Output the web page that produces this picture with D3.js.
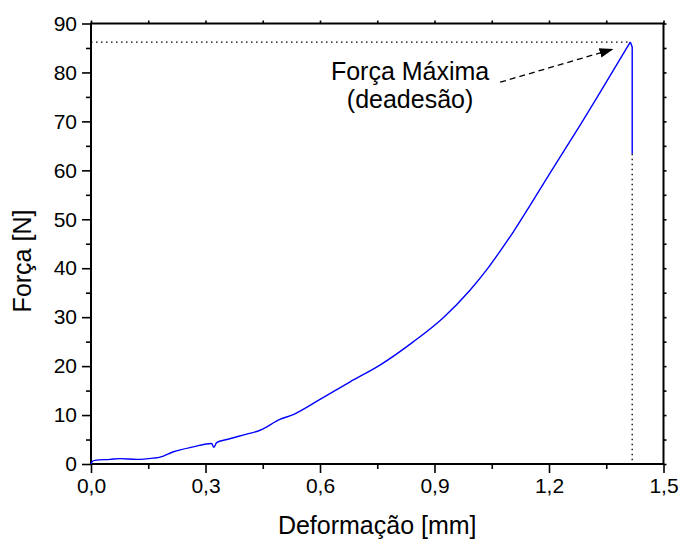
<!DOCTYPE html>
<html>
<head>
<meta charset="utf-8">
<script src="https://cdn.jsdelivr.net/npm/d3@7"></script>
<style>
  body { margin: 0; background: #fff; }
  svg { display: block; font-family: "Liberation Sans", Arial, sans-serif; }
</style>
</head>
<body>
<div id="chart"></div>
<script>

//Curve: deformation [mm] and force [N]
var deformacao = [0, 0.003, 0.01, 0.05, 0.076, 0.12, 0.163, 0.181, 0.216, 0.268, 0.316, 0.322, 0.329,
  0.356, 0.408, 0.443, 0.495, 0.53, 0.6, 0.679, 0.757, 0.845, 0.923, 0.993, 1.037, 1.072,
  1.107, 1.15, 1.203, 1.282, 1.326, 1.413, 1.418, 1.418];
var forca = [0, 0.5, 0.75, 0.95, 1.1, 0.95, 1.2, 1.4, 2.5, 3.5, 4.2, 3.4, 4.35,
  5.0, 6.1, 6.9, 9.1, 10.1, 13.2, 16.8, 20.2, 25.0, 29.9, 35.5, 39.7, 43.5,
  47.5, 52.8, 59.5, 69.3, 74.9, 86.2, 85.2, 63.4];

//Axis ticks
var xTicks = [0, 0.3, 0.6, 0.9, 1.2, 1.5];
var xMinor = [0.15, 0.45, 0.75, 1.05, 1.35];
var yTicks = [0, 10, 20, 30, 40, 50, 60, 70, 80, 90];
var yMinor = [5, 15, 25, 35, 45, 55, 65, 75, 85];

//Annotation (text position, arrow start, arrow end)
var annotText = ["Força Máxima", "(deadesão)"];
var annotAt = [0.836, 78.5];
var arrowFrom = [1.072, 78.0];
var arrowTo = [1.369, 84.8];

var width = 680, height = 540;
var margin = {top: 23.5, right: 16.5, bottom: 76, left: 91};

var svg = d3.select("#chart")
  .append("svg")
  .attr("width", width)
  .attr("height", height);

var xScale = d3.scaleLinear().domain([0, 1.5]).range([margin.left, width - margin.right]);
var yScale = d3.scaleLinear().domain([0, 90]).range([height - margin.bottom, margin.top]);

var fmt = function(d) { return d3.format(".1f")(d).replace(".", ","); };

var x0 = xScale.range()[0], x1 = xScale.range()[1],
  y0 = yScale.range()[0], y1 = yScale.range()[1];

// Bottom axis, major + minor
svg.append("g")
  .attr("transform", "translate(0," + y0 + ")")
  .call(d3.axisBottom(xScale).tickValues(xTicks).tickFormat(fmt).tickSize(9).tickPadding(5))
  .call(function(g) { g.select(".domain").remove(); });
svg.append("g")
  .attr("transform", "translate(0," + y0 + ")")
  .call(d3.axisBottom(xScale).tickValues(xMinor).tickFormat("").tickSize(5))
  .call(function(g) { g.select(".domain").remove(); });

// Left axis, major + minor
svg.append("g")
  .attr("transform", "translate(" + x0 + ",0)")
  .call(d3.axisLeft(yScale).tickValues(yTicks).tickSize(9).tickPadding(5))
  .call(function(g) { g.select(".domain").remove(); });
svg.append("g")
  .attr("transform", "translate(" + x0 + ",0)")
  .call(d3.axisLeft(yScale).tickValues(yMinor).tickFormat("").tickSize(5))
  .call(function(g) { g.select(".domain").remove(); });

// Top and right mirror ticks (short)
svg.append("g")
  .attr("transform", "translate(0," + y1 + ")")
  .call(d3.axisTop(xScale).tickValues(xTicks.concat(xMinor)).tickFormat("").tickSize(3))
  .call(function(g) { g.select(".domain").remove(); });
svg.append("g")
  .attr("transform", "translate(" + x1 + ",0)")
  .call(d3.axisRight(yScale).tickValues(yTicks.concat(yMinor)).tickFormat("").tickSize(3))
  .call(function(g) { g.select(".domain").remove(); });

svg.selectAll(".tick line").attr("stroke", "#000").attr("stroke-width", 1.6);
svg.selectAll(".tick text")
  .attr("fill", "#000")
  .style("font-size", "21px")
  .style("font-family", "'Liberation Sans', Arial, sans-serif");

// Frame
svg.append("rect")
  .attr("x", x0)
  .attr("y", y1)
  .attr("width", x1 - x0)
  .attr("height", y0 - y1)
  .attr("fill", "none")
  .attr("stroke", "#000")
  .attr("stroke-width", 2);

// Dotted guide lines at max force
var iMax = d3.maxIndex(forca);
var iEnd = forca.length - 1;
svg.append("line")
  .attr("x1", x0)
  .attr("x2", xScale(deformacao[iMax]))
  .attr("y1", yScale(forca[iMax]))
  .attr("y2", yScale(forca[iMax]))
  .style("stroke", "#000")
  .style("stroke-width", 1.3)
  .style("stroke-dasharray", "1.5, 3.5");
svg.append("line")
  .attr("x1", xScale(deformacao[iEnd]))
  .attr("x2", xScale(deformacao[iEnd]))
  .attr("y1", yScale(forca[iEnd]))
  .attr("y2", y0)
  .style("stroke", "#000")
  .style("stroke-width", 1.3)
  .style("stroke-dasharray", "1.5, 3.5");

// The curve: smooth loading part, then straight drop after the peak
var pts = forca.map(function(d, i) { return [deformacao[i], d]; });

var smoothLine = d3.line()
  .x(function(d) { return xScale(d[0]); })
  .y(function(d) { return yScale(d[1]); })
  .curve(d3.curveMonotoneX);
var straightLine = d3.line()
  .x(function(d) { return xScale(d[0]); })
  .y(function(d) { return yScale(d[1]); });

svg.append("path")
  .datum(pts.slice(0, iMax + 1))
  .attr("d", smoothLine)
  .attr("fill", "none")
  .attr("stroke", "#0000ff")
  .attr("stroke-width", 1.4)
  .attr("stroke-linejoin", "round");
svg.append("path")
  .datum(pts.slice(iMax))
  .attr("d", straightLine)
  .attr("fill", "none")
  .attr("stroke", "#0000ff")
  .attr("stroke-width", 1.4)
  .attr("stroke-linejoin", "round");

// Arrow
svg.append("defs").append("marker")
  .attr("id", "head")
  .attr("viewBox", "0 0 10 10")
  .attr("refX", 10)
  .attr("refY", 5)
  .attr("markerWidth", 14)
  .attr("markerHeight", 14)
  .attr("markerUnits", "userSpaceOnUse")
  .attr("orient", "auto")
  .append("path")
  .attr("d", "M0,1.5 L10,5 L0,8.5 Z")
  .attr("fill", "#000");

svg.append("line")
  .attr("x1", xScale(arrowFrom[0]))
  .attr("y1", yScale(arrowFrom[1]))
  .attr("x2", xScale(arrowTo[0]))
  .attr("y2", yScale(arrowTo[1]))
  .style("stroke", "#000")
  .style("stroke-width", 1.3)
  .style("stroke-dasharray", "6, 4")
  .attr("marker-end", "url(#head)");

svg.append("text")
  .attr("x", xScale(annotAt[0]))
  .attr("y", yScale(annotAt[1]))
  .attr("text-anchor", "middle")
  .style("font-size", "25px")
  .selectAll("tspan")
  .data(annotText)
  .enter()
  .append("tspan")
  .attr("x", xScale(annotAt[0]))
  .attr("dy", function(d, i) { return i === 0 ? 0 : 28; })
  .text(function(d) { return d; });

// Axis titles
svg.append("text")
  .attr("x", (x0 + x1) / 2)
  .attr("y", 534)
  .attr("text-anchor", "middle")
  .style("font-size", "25px")
  .text("Deformação [mm]");

svg.append("text")
  .attr("transform", "translate(31," + 261 + ") rotate(-90)")
  .attr("text-anchor", "middle")
  .style("font-size", "25px")
  .text("Força [N]");

</script>
</body>
</html>
